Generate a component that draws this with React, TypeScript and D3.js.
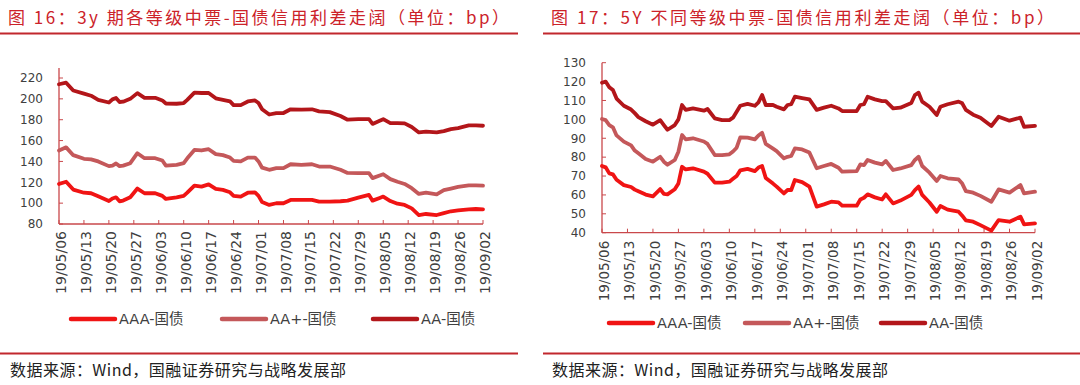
import React from "react";
import * as d3 from "d3";

// ---------- data ----------
const tickLabels = [
  "19/05/06", "19/05/13", "19/05/20", "19/05/27", "19/06/03", "19/06/10",
  "19/06/17", "19/06/24", "19/07/01", "19/07/08", "19/07/15", "19/07/22",
  "19/07/29", "19/08/05", "19/08/12", "19/08/19", "19/08/26", "19/09/02",
];
const seriesNames = ["AAA-国债", "AA+-国债", "AA-国债"];

const leftTitle = "图 16：3y 期各等级中票-国债信用利差走阔（单位：bp）";
const rightTitle = "图 17：5Y 不同等级中票-国债信用利差走阔（单位：bp）";
const sourceText = "数据来源：Wind，国融证券研究与战略发展部";

const leftYTicks = [80, 100, 120, 140, 160, 180, 200, 220];
const rightYTicks = [40, 50, 60, 70, 80, 90, 100, 110, 120, 130];

const leftDates = [
  "2019-05-06", "2019-05-08", "2019-05-10", "2019-05-13", "2019-05-15", "2019-05-17",
  "2019-05-20", "2019-05-21", "2019-05-22", "2019-05-23", "2019-05-24", "2019-05-26",
  "2019-05-28", "2019-05-30", "2019-06-02", "2019-06-04", "2019-06-05", "2019-06-08",
  "2019-06-10", "2019-06-11", "2019-06-13", "2019-06-15", "2019-06-17", "2019-06-19",
  "2019-06-21", "2019-06-23", "2019-06-24", "2019-06-26", "2019-06-28", "2019-06-30",
  "2019-07-01", "2019-07-02", "2019-07-04", "2019-07-06", "2019-07-08", "2019-07-10",
  "2019-07-13", "2019-07-16", "2019-07-18", "2019-07-21", "2019-07-24", "2019-07-26",
  "2019-07-29", "2019-08-01", "2019-08-02", "2019-08-04", "2019-08-05", "2019-08-07",
  "2019-08-09", "2019-08-11", "2019-08-13", "2019-08-15", "2019-08-17", "2019-08-20",
  "2019-08-22", "2019-08-24", "2019-08-26", "2019-08-29", "2019-08-31", "2019-09-02",
];
const left3yAAA = [
  118.4, 120.5, 113, 110, 109.5, 106.5, 102, 104.5, 105.6, 101.8,
  102.5, 105.6, 114, 109.5, 109.5, 107, 104, 105.5, 106.9, 110,
  116.8, 115.9, 118, 113.6, 112.7, 110.4, 107, 106.3, 110, 110.4,
  107, 101, 98.3, 99.9, 99.9, 103.1, 103.1, 103.1, 101.5, 101.5,
  101.8, 102.4, 105.3, 107.9, 102.4, 105, 106.3, 102, 99.5, 98.3,
  95, 88.6, 89.6, 88.6, 90.5, 92.2, 93, 94, 94.4, 94,
];
const left3yAAplus = [
  150.5, 153.5, 146, 142.5, 142, 140, 135.5, 136, 138, 135.5,
  136, 138.3, 147.9, 143.1, 143.1, 140.9, 136, 136.7, 138.3, 143,
  151, 150.5, 151.7, 147, 146, 143.7, 140.5, 140, 143.7, 143.7,
  140, 134, 132, 133.5, 133.5, 137.3, 136.7, 137.3, 135.1, 135.1,
  132, 129, 128.7, 128.7, 124, 126.5, 127.7, 123, 120.5, 118.4,
  114.3, 108.8, 110, 108.5, 112.5, 114, 115.5, 117, 117, 116.8,
];
const left3yAA = [
  214, 215.5, 208, 205, 203, 199, 196.5, 199.5, 200.8, 197,
  197.3, 200, 205.5, 201, 201, 198.5, 195.5, 195.3, 196, 199,
  206, 205.6, 205.6, 200.5, 199, 197.6, 194, 194, 197.5, 198.5,
  196, 190, 185, 186.4, 186.4, 190, 189.6, 190, 188, 187.3,
  183.6, 180, 180.6, 180.6, 176, 179, 180.5, 176.7, 176.7, 176.5,
  173, 167.8, 168.5, 167.8, 169, 171, 172, 174.5, 174.5, 174.2,
];

const rightDates = [
  "2019-05-06", "2019-05-07", "2019-05-08", "2019-05-09", "2019-05-10", "2019-05-12",
  "2019-05-14", "2019-05-15", "2019-05-16", "2019-05-18", "2019-05-20", "2019-05-22",
  "2019-05-23", "2019-05-24", "2019-05-26", "2019-05-27", "2019-05-28", "2019-05-29",
  "2019-05-31", "2019-06-03", "2019-06-04", "2019-06-06", "2019-06-08", "2019-06-10",
  "2019-06-11", "2019-06-12", "2019-06-13", "2019-06-15", "2019-06-17", "2019-06-18",
  "2019-06-19", "2019-06-20", "2019-06-22", "2019-06-23", "2019-06-25", "2019-06-26",
  "2019-06-27", "2019-06-28", "2019-06-30", "2019-07-02", "2019-07-04", "2019-07-06",
  "2019-07-08", "2019-07-10", "2019-07-11", "2019-07-15", "2019-07-16", "2019-07-17",
  "2019-07-18", "2019-07-20", "2019-07-22", "2019-07-23", "2019-07-25", "2019-07-27",
  "2019-07-30", "2019-07-31", "2019-08-01", "2019-08-02", "2019-08-04", "2019-08-06",
  "2019-08-07", "2019-08-09", "2019-08-12", "2019-08-13", "2019-08-14", "2019-08-16",
  "2019-08-18", "2019-08-21", "2019-08-23", "2019-08-26", "2019-08-29", "2019-08-30",
  "2019-09-02",
];
const right5yAAA = [
  75.3, 74.6, 71.4, 70.9, 68, 65.2, 64.2, 62.8, 61.9, 60.2,
  59.2, 63.1, 60.5, 60.3, 63, 66.1, 74.9, 73.5, 74.1, 72.3,
  71.2, 66.5, 66.5, 67, 68.5, 70, 73, 73.8, 72.6, 74.5,
  75.3, 69, 66, 64.4, 60.8, 62.6, 62.6, 67.9, 66.8, 64.4,
  53.8, 55, 56.4, 56.1, 54.3, 54.3, 57.6, 58.5, 60.3, 58.7,
  57.6, 60.3, 55.5, 57, 60, 62.5, 64.4, 60, 56, 51.1,
  54.1, 52.2, 51.1, 49, 46.5, 45.8, 44, 41.1, 46.7, 45.8,
  48.5, 44.4, 44.9,
];
const right5yAAplus = [
  100.2, 99.6, 97, 95.8, 91.5, 88.2, 86.2, 83.5, 82, 79,
  77.6, 80.2, 77.6, 76, 78.5, 82.9, 91.7, 89.4, 90, 88.3,
  87, 81.1, 81.1, 81.5, 83, 85, 90.5, 90.3, 89.4, 91.5,
  92.9, 87, 84.5, 83.2, 79.4, 80.2, 80.6, 84.6, 84.1, 82.4,
  74.1, 75.3, 76.4, 74.4, 72.3, 72.6, 76.2, 75.8, 78.5, 77.1,
  76.2, 78, 73.2, 74, 75.8, 78.5, 80.2, 75.3, 71.8, 67.4,
  70, 68.8, 68.2, 66, 62, 61.2, 59.5, 56.4, 62.9, 61.2,
  65.2, 60.8, 61.7,
];
const right5yAA = [
  119.4, 120, 117, 115.5, 111, 107.2, 105.2, 103.3, 101.2, 99,
  97.2, 99.6, 97, 94.5, 97, 100, 107.6, 105, 105.8, 104.6,
  105.5, 100.5, 99.6, 99.6, 100.9, 104, 107.2, 108.2, 107.2, 109,
  112.9, 107.6, 107.6, 106.7, 105.3, 107.6, 108, 112, 111.3, 110.6,
  105, 106.2, 107.2, 105.8, 104.4, 104.4, 107.6, 108, 112, 110.6,
  109.7, 109.7, 105.8, 106.2, 108.7, 112.9, 114.1, 109.4, 106.7, 102.3,
  106.7, 108, 109.4, 108.5, 105, 102.5, 100.9, 96.5, 101.4, 99.3,
  100.9, 96.1, 96.6,
];

// ---------- styles ----------
const COLORS = ["#f01414", "#c4585a", "#b3161a"];
const AXIS_COLOR = "#c9484b";
const TITLE_COLOR = "#cc2229";
const RULE_COLOR = "#c1272d";
const TEXT_COLOR = "#404040";
const LATIN_FONT = "'DejaVu Sans', 'Noto Sans CJK SC', sans-serif";
const CJK_FONT = "'Noto Sans CJK SC', sans-serif";

const parseDate = d3.timeParse("%Y-%m-%d");
const parseTick = d3.timeParse("%y/%m/%d");

type PanelProps = {
  title: string;
  dates: string[];
  series: number[][];
  yTicks: number[];
  titleX: number;
  titleLen: number;
  ruleX0: number;
  ruleX1: number;
  axisX: number;
  axisX1: number;
  yTop: number;
  yBottom: number;
  axisTop: number;
  xLabelSize: number;
  xLabelGap: number;
  legendX: number[];
  legendY: number;
  sourceX: number;
};

function Panel(p: PanelProps) {
  const dts = p.dates.map((d) => parseDate(d) as Date);
  const ticks = tickLabels.map((t) => parseTick(t) as Date);
  const x = d3
    .scaleTime()
    .domain([ticks[0], ticks[ticks.length - 1]])
    .range([p.axisX, p.axisX1]);
  const y = d3
    .scaleLinear()
    .domain([p.yTicks[0], p.yTicks[p.yTicks.length - 1]])
    .range([p.yBottom, p.yTop]);
  const line = d3
    .line<number>()
    .x((_, i) => x(dts[i]))
    .y((v) => y(v));

  return (
    <g>
      {/* title */}
      <text
        x={p.titleX}
        y={24}
        fontFamily={CJK_FONT}
        fontSize={17}
        fill={TITLE_COLOR}
        textLength={p.titleLen}
        lengthAdjust="spacing"
      >
        {p.title}
      </text>
      <line x1={p.ruleX0} x2={p.ruleX1} y1={33.5} y2={33.5} stroke={RULE_COLOR} strokeWidth={2} />

      {/* y axis */}
      <line x1={p.axisX} x2={p.axisX} y1={p.axisTop} y2={p.yBottom} stroke={AXIS_COLOR} strokeWidth={1.3} />
      {p.yTicks.map((t) => (
        <g key={"y" + t}>
          <line x1={p.axisX} x2={p.axisX + 4} y1={y(t)} y2={y(t)} stroke={AXIS_COLOR} strokeWidth={1} />
          <text
            x={p.axisX - 16}
            y={y(t)}
            dy="0.36em"
            textAnchor="end"
            fontFamily={LATIN_FONT}
            fontSize={12}
            fill={TEXT_COLOR}
          >
            {t}
          </text>
        </g>
      ))}

      {/* x axis */}
      <line x1={p.axisX} x2={p.axisX1} y1={p.yBottom} y2={p.yBottom} stroke={AXIS_COLOR} strokeWidth={1.3} />
      {ticks.map((t, i) => (
        <g key={"x" + i}>
          <line x1={x(t)} x2={x(t)} y1={p.yBottom} y2={p.yBottom - 4} stroke={AXIS_COLOR} strokeWidth={1} />
          <text
            transform={`translate(${x(t) + 2},${p.yBottom + p.xLabelGap}) rotate(-90)`}
            dy="0.36em"
            textAnchor="end"
            fontFamily={LATIN_FONT}
            fontSize={p.xLabelSize}
            fill={TEXT_COLOR}
          >
            {tickLabels[i]}
          </text>
        </g>
      ))}

      {/* series */}
      {p.series.map((s, i) => (
        <path
          key={"s" + i}
          d={line(s) || ""}
          fill="none"
          stroke={COLORS[i]}
          strokeWidth={3.8}
          strokeLinejoin="round"
          strokeLinecap="round"
        />
      ))}

      {/* legend */}
      {seriesNames.map((n, i) => (
        <g key={"l" + i}>
          <line
            x1={p.legendX[i]}
            x2={p.legendX[i] + 44}
            y1={p.legendY}
            y2={p.legendY}
            stroke={COLORS[i]}
            strokeWidth={4.5}
            strokeLinecap="round"
          />
          <text
            x={p.legendX[i] + 48}
            y={p.legendY}
            dy="0.36em"
            fontFamily={LATIN_FONT}
            fontSize={14.5}
            fill={TEXT_COLOR}
          >
            {n}
          </text>
        </g>
      ))}

      {/* source */}
      <line x1={p.ruleX0} x2={p.ruleX1} y1={353.5} y2={353.5} stroke={RULE_COLOR} strokeWidth={2} />
      <text
        x={p.sourceX}
        y={376}
        fontFamily={CJK_FONT}
        fontSize={16}
        fill="#222"
        textLength={336}
        lengthAdjust="spacing"
      >
        {sourceText}
      </text>
    </g>
  );
}

export default function App() {
  return (
    <svg
      width={1080}
      height={385}
      style={{ position: "absolute", left: 0, top: 0, background: "#fff" }}
    >
      <rect x={0} y={0} width={1080} height={385} fill="#fff" />
      <Panel
        title={leftTitle}
        dates={leftDates}
        series={[left3yAAA, left3yAAplus, left3yAA]}
        yTicks={leftYTicks}
        titleX={8}
        titleLen={501}
        ruleX0={0}
        ruleX1={518}
        axisX={59}
        axisX1={483}
        yTop={78}
        yBottom={224}
        axisTop={68}
        xLabelSize={14}
        xLabelGap={7}
        legendX={[71, 222, 373]}
        legendY={319}
        sourceX={10}
      />
      <Panel
        title={rightTitle}
        dates={rightDates}
        series={[right5yAAA, right5yAAplus, right5yAA]}
        yTicks={rightYTicks}
        titleX={551}
        titleLen={503}
        ruleX0={543}
        ruleX1={1080}
        axisX={602}
        axisX1={1035}
        yTop={62.7}
        yBottom={232.7}
        axisTop={62.7}
        xLabelSize={13.5}
        xLabelGap={8}
        legendX={[609, 745, 881]}
        legendY={323}
        sourceX={552}
      />
    </svg>
  );
}
